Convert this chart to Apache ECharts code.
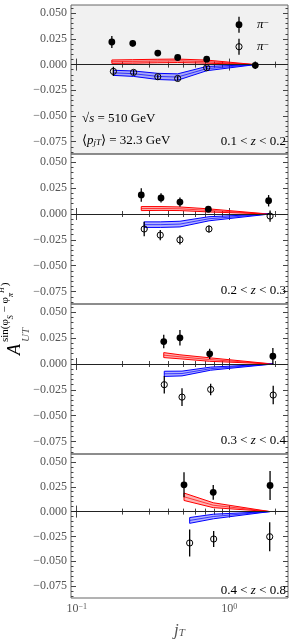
<!DOCTYPE html>
<html>
<head>
<meta charset="utf-8">
<script src="https://cdn.jsdelivr.net/npm/echarts@6/dist/echarts.min.js"></script>
<style>
html,body{margin:0;padding:0;background:#fff;}
#c{width:294px;height:640px;}
</style>
</head>
<body>
<div id="c"></div>
<script>
// ---------- data ----------
const zBins = ['0.1', '0.2', '0.3', '0.4', '0.8'];

const xF1 = [0.170, 0.233, 0.340, 0.459, 0.711, 1.48];
const yF1 = [0.0220, 0.0207, 0.0112, 0.0069, 0.0053, -0.0007];
const eF1 = [0.0058, 0.0030, 0.0025, 0.0025, 0.0030, 0.0036];
const xO1 = [0.174, 0.236, 0.340, 0.459, 0.711];
const yO1 = [-0.0066, -0.0076, -0.0118, -0.0135, -0.0030];
const eO1 = [0.0045, 0.0025, 0.0022, 0.0022, 0.0022];
const rHi1 = [0.0045, 0.0048, 0.0052, 0.0054, 0.0044, 0.0];
const rLo1 = [0.0012, 0.0014, 0.0018, 0.0020, 0.0014, 0.0];
const bHi1 = [-0.0055, -0.0062, -0.0085, -0.0090, -0.0018, 0.0];
const bLo1 = [-0.0105, -0.0115, -0.0145, -0.0152, -0.0060, 0.0];
const xB1 = [0.174, 0.236, 0.340, 0.459, 0.711, 1.48];

const xF2 = [0.265, 0.357, 0.475, 0.729, 1.81];
const yF2 = [0.0184, 0.0155, 0.0115, 0.0046, 0.0128];
const eF2 = [0.0065, 0.0045, 0.0045, 0.0020, 0.0055];
const xO2 = [0.277, 0.353, 0.475, 0.736, 1.85];
const yO2 = [-0.0145, -0.0204, -0.0250, -0.0145, -0.0020];
const eO2 = [0.0070, 0.0050, 0.0045, 0.0035, 0.0055];
const rHi2 = [0.0072, 0.0072, 0.0068, 0.0050, 0.0];
const rLo2 = [0.0033, 0.0035, 0.0033, 0.0020, 0.0];
const bHi2 = [-0.0076, -0.0076, -0.0070, -0.0026, 0.0];
const bLo2 = [-0.0130, -0.0130, -0.0125, -0.0066, 0.0];

const xF3 = [0.372, 0.475, 0.744, 1.93];
const yF3 = [0.0217, 0.0253, 0.0098, 0.0075];
const eF3 = [0.0065, 0.0075, 0.0050, 0.0080];
const xO3 = [0.375, 0.490, 0.755, 1.94];
const yO3 = [-0.0200, -0.0320, -0.0246, -0.0300];
const eO3 = [0.0085, 0.0085, 0.0055, 0.0090];
const rHi3 = [0.0110, 0.0089, 0.0060, 0.0];
const rLo3 = [0.0062, 0.0050, 0.0026, 0.0];
const bHi3 = [-0.0070, -0.0069, -0.0030, 0.0];
const bLo3 = [-0.0120, -0.0115, -0.0060, 0.0];

const xF4 = [0.505, 0.785, 1.85];
const yF4 = [0.0270, 0.0194, 0.0263];
const eF4 = [0.0125, 0.0075, 0.0145];
const xO4 = [0.550, 0.790, 1.84];
const yO4 = [-0.0316, -0.0276, -0.0253];
const eO4 = [0.0135, 0.0080, 0.0145];
const rHi4 = [0.0187, 0.0089, 0.0];
const rLo4 = [0.0112, 0.0040, 0.0];
const bHi4 = [-0.0060, -0.0026, 0.0];
const bLo4 = [-0.0118, -0.0072, 0.0];

// tick values
const xMajorTicks = [0.1, 1];
const xMinorTicks = [0.2, 0.3, 0.4, 0.5, 0.6, 0.7, 0.8, 0.9, 2];
const yMajorTicks = [-0.075, -0.05, -0.025, 0, 0.025, 0.05];
const yMinorTicks = [];
for (let k = -17; k <= 11; k++) { if (k % 5 !== 0) yMinorTicks.push(+(k * 0.005).toFixed(3)); }

const panels = [
  {xF: xF1, yF: yF1, eF: eF1, xO: xO1, yO: yO1, eO: eO1, xR: xF1, rHi: rHi1, rLo: rLo1, xB: xB1, bHi: bHi1, bLo: bLo1},
  {xF: xF2, yF: yF2, eF: eF2, xO: xO2, yO: yO2, eO: eO2, xR: xF2, rHi: rHi2, rLo: rLo2, xB: xO2, bHi: bHi2, bLo: bLo2},
  {xF: xF3, yF: yF3, eF: eF3, xO: xO3, yO: yO3, eO: eO3, xR: xF3, rHi: rHi3, rLo: rLo3, xB: xO3, bHi: bHi3, bLo: bLo3},
  {xF: xF4, yF: yF4, eF: eF4, xO: xO4, yO: yO4, eO: eO4, xR: xF4, rHi: rHi4, rLo: rLo4, xB: xO4, bHi: bHi4, bLo: bLo4}
];

// ---------- layout ----------
const FONT = 'Liberation Serif';
const GRAY = '#555';
const tops = [5, 154, 304, 454];
const heights = [149, 150, 150, 149];
const Y_MIN = -0.087, Y_MAX = 0.058;
const X_MIN = 0.0918, X_MAX = 2.425;

const grids = [], xAxes = [], yAxes = [], series = [];

function fmtY(v) {
  const s = Math.abs(v).toFixed(3);
  return (v < 0 ? '\u2212' : '') + s;
}

panels.forEach((p, g) => {
  grids.push({
    left: 71, right: 6, top: tops[g], height: heights[g],
    show: true, borderColor: '#666', borderWidth: 1,
    backgroundColor: g === 0 ? '#f1f1f1' : 'transparent'
  });
  const baseX = {type: 'log', logBase: 10, gridIndex: g, min: X_MIN, max: X_MAX,
    axisLine: {show: false}, splitLine: {show: false}, axisLabel: {show: false}};
  xAxes.push(Object.assign({}, baseX, {
    position: 'bottom',
    axisTick: {show: true, inside: true, length: 6, lineStyle: {color: '#444'}, customValues: xMajorTicks},
    axisLabel: g === 3 ? {
      show: true, customValues: xMajorTicks, margin: 5,
      formatter: v => (v < 0.5 ? '10{sup|\u22121}' : '10{sup|0}'),
      color: GRAY, fontFamily: FONT, fontSize: 12,
      rich: {sup: {fontSize: 8, verticalAlign: 'top', fontFamily: FONT, color: GRAY}}
    } : {show: false},
    name: g === 3 ? '{i|j}{s|T}' : '',
    nameLocation: 'middle', nameGap: 24,
    nameTextStyle: {rich: {
      i: {fontFamily: FONT, fontStyle: 'italic', fontSize: 17, color: GRAY},
      s: {fontFamily: FONT, fontStyle: 'italic', fontSize: 11, color: GRAY, verticalAlign: 'bottom'}
    }}
  }));
  xAxes.push(Object.assign({}, baseX, {position: 'bottom',
    axisTick: {show: true, inside: true, length: 3, lineStyle: {color: '#444'}, customValues: xMinorTicks}}));
  xAxes.push(Object.assign({}, baseX, {position: 'top',
    axisTick: {show: true, inside: true, length: 6, lineStyle: {color: '#444'}, customValues: xMajorTicks}}));
  xAxes.push(Object.assign({}, baseX, {position: 'top',
    axisTick: {show: true, inside: true, length: 3, lineStyle: {color: '#444'}, customValues: xMinorTicks}}));

  const baseY = {type: 'value', gridIndex: g, min: Y_MIN, max: Y_MAX,
    axisLine: {show: false}, splitLine: {show: false}, axisLabel: {show: false}};
  yAxes.push(Object.assign({}, baseY, {position: 'left',
    axisTick: {show: true, inside: true, length: 5, lineStyle: {color: '#444'}, customValues: yMajorTicks},
    axisLabel: {show: true, customValues: yMajorTicks, formatter: fmtY, color: GRAY,
      fontFamily: FONT, fontSize: 12, margin: 4}}));
  yAxes.push(Object.assign({}, baseY, {position: 'left',
    axisTick: {show: true, inside: true, length: 2.5, lineStyle: {color: '#444'}, customValues: yMinorTicks}}));
  yAxes.push(Object.assign({}, baseY, {position: 'right',
    axisTick: {show: true, inside: true, length: 5, lineStyle: {color: '#444'}, customValues: yMajorTicks}}));
  yAxes.push(Object.assign({}, baseY, {position: 'right',
    axisTick: {show: true, inside: true, length: 2.5, lineStyle: {color: '#444'}, customValues: yMinorTicks}}));

  const xi = g * 4, yi = g * 4;

  series.push({
    type: 'line', xAxisIndex: xi, yAxisIndex: yi, data: [], silent: true,
    markLine: {silent: true, symbol: 'none', label: {show: false},
      lineStyle: {color: '#222', width: 1, type: 'solid'}, data: [{yAxis: 0}]}
  });

  function band(xs, hi, lo, color) {
    return {
      type: 'custom', xAxisIndex: xi, yAxisIndex: yi, clip: true, z: 3, silent: true,
      data: [[xs[0], hi[0]]],
      renderItem: (params, api) => {
        const up = xs.map((x, i) => api.coord([x, hi[i]]));
        const dn = xs.map((x, i) => api.coord([x, lo[i]]));
        const md = xs.map((x, i) => api.coord([x, (hi[i] + lo[i]) / 2]));
        const poly = up.concat(dn.slice().reverse());
        const ch = [
          {type: 'polygon', shape: {points: poly}, style: {fill: color, opacity: 0.3}},
          {type: 'polyline', shape: {points: up}, style: {stroke: color, lineWidth: 1, fill: null}},
          {type: 'polyline', shape: {points: dn}, style: {stroke: color, lineWidth: 1, fill: null}},
          {type: 'polyline', shape: {points: md}, style: {stroke: color, lineWidth: 0.7, fill: null}},
          {type: 'line', shape: {x1: up[0][0], y1: up[0][1], x2: dn[0][0], y2: dn[0][1]}, style: {stroke: color, lineWidth: 1}}
        ];
        return {type: 'group', children: ch};
      }
    };
  }
  series.push(band(p.xR, p.rHi, p.rLo, '#ff0000'));
  series.push(band(p.xB, p.bHi, p.bLo, '#0000ff'));

  function pts(xs, ys, es, filled) {
    return {
      type: 'custom', xAxisIndex: xi, yAxisIndex: yi, clip: false, z: 5, silent: true,
      data: xs.map((x, i) => [x, ys[i], es[i]]),
      renderItem: (params, api) => {
        const x = api.value(0), y = api.value(1), e = api.value(2);
        const c = api.coord([x, y]);
        const a = api.coord([x, y + e]);
        const b = api.coord([x, y - e]);
        return {type: 'group', children: [
          {type: 'line', shape: {x1: a[0], y1: a[1], x2: b[0], y2: b[1]}, style: {stroke: '#000', lineWidth: 1.3}},
          {type: 'circle', shape: {cx: c[0], cy: c[1], r: filled ? 3.4 : 3.1},
            style: filled ? {fill: '#000'} : {fill: 'none', stroke: '#000', lineWidth: 1}}
        ]};
      }
    };
  }
  series.push(pts(p.xF, p.yF, p.eF, true));
  series.push(pts(p.xO, p.yO, p.eO, false));
});

// ---------- text ----------
const richBase = {
  n: {fontFamily: FONT, fontSize: 13, color: GRAY},
  i: {fontFamily: FONT, fontSize: 13, color: GRAY, fontStyle: 'italic'},
  sub: {fontFamily: FONT, fontSize: 9, color: GRAY, fontStyle: 'italic', verticalAlign: 'bottom'},
  sup: {fontFamily: FONT, fontSize: 9, color: GRAY, verticalAlign: 'top'}
};
const graphics = [];
zBins.slice(0, 4).forEach((lo, g) => {
  graphics.push({type: 'text', right: 8, top: tops[g] + 130, z: 10,
    style: {text: '{n|' + lo + ' < }{i|z}{n| < ' + zBins[g + 1] + '}', rich: richBase}});
});
graphics.push({type: 'text', left: 82, top: 112, z: 10,
  style: {text: '{n|\u221A}{i|s}{n| = 510 GeV}', rich: richBase}});
graphics.push({type: 'text', left: 82, top: 134, z: 10,
  style: {text: '{n|\u27E8}{i|p}{sub|jT}{n|\u27E9 = 32.3 GeV}', rich: richBase}});
const legendRows = [{y: 24.7, filled: true}, {y: 46.7, filled: false}];
legendRows.forEach(r => {
  graphics.push({type: 'line', z: 10, shape: {x1: 239, y1: r.y - 8, x2: 239, y2: r.y + 8}, style: {stroke: '#000', lineWidth: 1.3}});
  graphics.push({type: 'circle', z: 10, shape: {cx: 239, cy: r.y, r: r.filled ? 3.4 : 3.1},
    style: r.filled ? {fill: '#000'} : {fill: 'none', stroke: '#000', lineWidth: 1}});
  graphics.push({type: 'text', z: 10, x: 257, y: r.y, style: {
    text: '{i|\u03C0}{sup|\u2212}', rich: richBase, verticalAlign: 'middle'}});
});
graphics.push({type: 'group', x: 17, y: 313, rotation: Math.PI / 2, z: 10, children: [
  {type: 'text', x: -42, y: -6, style: {
    text: '{A|A}{s|sin(\u03C6}{ss|S}{s| \u2212 \u03C6}{ss|\u03C0}{sh|H}{s|)}',
    verticalAlign: 'middle',
    rich: {
      A: {fontFamily: FONT, fontSize: 18, fontStyle: 'italic', color: GRAY, verticalAlign: 'bottom', padding: [8, 2, 0, 0]},
      s: {fontFamily: FONT, fontSize: 11, color: GRAY, verticalAlign: 'top', padding: [2, 0, 0, 0]},
      ss: {fontFamily: FONT, fontSize: 8, fontStyle: 'italic', color: GRAY, verticalAlign: 'top', padding: [9, 0, 0, 0]},
      sh: {fontFamily: FONT, fontSize: 8, fontStyle: 'italic', color: GRAY, verticalAlign: 'top', padding: [0, 1, 0, 0]}
    }}},
  {type: 'text', x: -29, y: 4, style: {text: 'UT', fontFamily: FONT, fontSize: 11, fontStyle: 'italic', fill: GRAY}}
]});

const chart = echarts.init(document.getElementById('c'), null, {renderer: 'canvas'});
chart.setOption({
  animation: false,
  backgroundColor: '#fff',
  grid: grids, xAxis: xAxes, yAxis: yAxes, series: series, graphic: graphics
});
</script>
</body>
</html>
